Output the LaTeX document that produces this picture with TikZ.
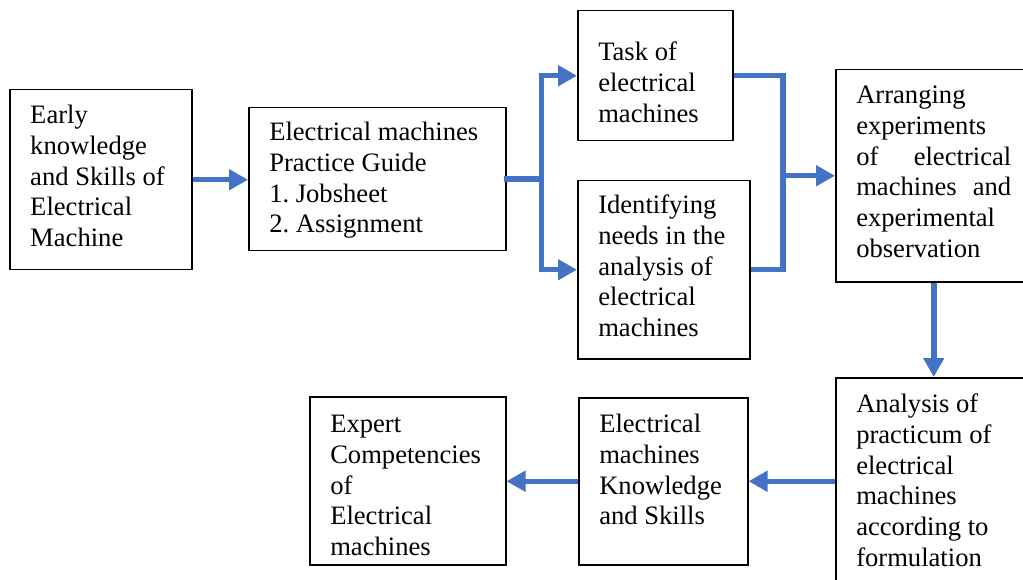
\documentclass[tikz,border=0pt]{standalone}
\usepackage{fontspec}
\setmainfont{Liberation Serif}
\usetikzlibrary{arrows.meta}
\definecolor{connblue}{HTML}{4472C4}
\frenchspacing
\newcommand{\bt}[4]{\parbox[c][#2][t]{#1}{\raggedright\frenchspacing\leftskip=20.5pt\rule{0pt}{#3}#4}}
\begin{document}
\begin{tikzpicture}[x=1pt,y=-1pt,
  box/.style={draw=black, line width=1.5pt, inner sep=0pt, anchor=north west,
    font=\fontsize{26.6}{30.7}\selectfont},
  conn/.style={draw=connblue, line width=5.5pt},
  arr/.style={conn, -{Triangle[width=20pt,length=19pt]}}]
\useasboundingbox (0,0) rectangle (1023,580);
\clip (0,0) rectangle (1023,580);
\fill[white] (0,0) rectangle (1023,580);

\node[box] (b1) at (9,89) {\bt{182pt}{180pt}{34pt}{Early\\knowledge\\and Skills of\\Electrical\\Machine}};
\node[box] (b2) at (248,107) {\bt{257pt}{143pt}{33pt}{Electrical machines\\Practice Guide\\1. Jobsheet\\2. Assignment}};
\node[box] (b3) at (577,10) {\bt{155pt}{130pt}{50pt}{Task of\\electrical\\machines}};
\node[box] (b4) at (577,180) {\bt{172pt}{178pt}{33pt}{Identifying\\needs in the\\analysis of\\electrical\\machines}};
\node[box] (b5) at (835,69) {\bt{196pt}{212pt}{34pt}{Arranging\\experiments\\\makebox[155pt][s]{of electrical}\\\makebox[155pt][s]{machines and}\\experimental\\observation}};
\node[box] (b6) at (835,377) {\bt{196pt}{223pt}{35pt}{Analysis of\\practicum of\\electrical\\machines\\according to\\formulation}};
\node[box] (b7) at (578,397) {\bt{169pt}{167pt}{35pt}{Electrical\\machines\\Knowledge\\and Skills}};
\node[box] (b8) at (309,396) {\bt{196pt}{168pt}{36pt}{Expert\\Competencies\\of\\Electrical\\machines}};

\coordinate (s1) at ([xshift=35pt]b2.east);
\coordinate (m1) at ([xshift=-52pt]b5.west);

\draw[arr] (b1.east) -- (b1.east -| b2.west);
\draw[conn, line cap=rect] (b2.east) -- (s1);
\draw[arr] (s1) |- (b3.west);
\draw[arr] (s1) |- (b4.west);
\draw[conn] (b3.east) -| (m1);
\draw[conn] (b4.east) -| (m1);
\draw[arr] (m1) -- (b5.west);
\draw[arr] (b5.south) -- (b6.north);
\draw[arr] (b7.east -| b6.west) -- (b7.east);
\draw[arr] (b7.west) -- (b7.west -| b8.east);
\end{tikzpicture}
\end{document}
